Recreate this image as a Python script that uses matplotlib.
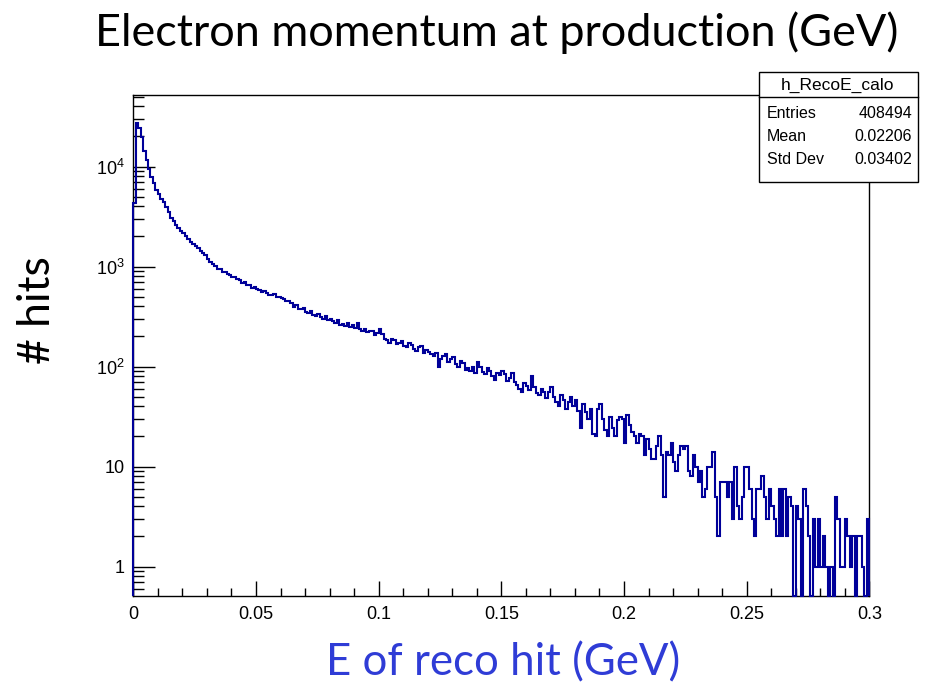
import numpy as np
import matplotlib
matplotlib.use("Agg")
import matplotlib.pyplot as plt
from matplotlib.patches import Rectangle
from matplotlib.lines import Line2D
from matplotlib.ticker import MultipleLocator, LogLocator, NullFormatter

# h_RecoE_calo: 300 bins of 1 MeV between 0 and 0.3 GeV
x_low = 0.0
x_high = 0.3
counts = [
    4300, 27500, 24000, 19500, 14200, 11600, 9400, 7900, 6800, 5800,
    5250, 4750, 4400, 3950, 3480, 3050, 2830, 2590, 2420, 2260,
    2140, 2010, 1890, 1770, 1690, 1590, 1530, 1440, 1380, 1290,
    1190, 1120, 1050, 1010, 950, 935, 890, 880, 845, 830,
    790, 785, 745, 735, 690, 700, 655, 650, 615, 625,
    600, 580, 552, 570, 548, 522, 516, 530, 490, 498,
    482, 470, 448, 452, 430, 395, 408, 380, 372, 388,
    352, 344, 360, 330, 318, 334, 310, 300, 318, 290,
    296, 284, 272, 290, 262, 266, 252, 270, 246, 258,
    244, 272, 236, 226, 238, 220, 228, 224, 206, 216,
    238, 212, 190, 186, 172, 188, 184, 166, 170, 180,
    162, 158, 170, 164, 150, 142, 156, 160, 138, 146,
    140, 132, 128, 136, 100, 118, 126, 132, 110, 118,
    124, 106, 100, 114, 108, 92, 96, 90, 98, 86,
    112, 100, 88, 84, 96, 90, 80, 74, 86, 82,
    90, 84, 72, 76, 86, 70, 66, 60, 56, 68,
    64, 58, 80, 62, 54, 52, 60, 56, 48, 56,
    62, 50, 44, 40, 52, 46, 38, 44, 50, 40,
    46, 36, 24, 42, 35, 30, 38, 21, 20, 38,
    42, 30, 23, 20, 31, 24, 20, 29, 31, 30,
    17, 33, 26, 22, 20, 17, 21, 20, 13, 19,
    15, 12, 12, 16, 20, 13, 5, 14, 13, 17,
    11, 9, 13, 16, 15, 16, 9, 8, 13, 10,
    7, 9, 5, 6, 10, 10, 14, 5, 2, 7,
    7, 7, 5, 7, 3, 10, 4, 3, 5, 10,
    10, 6, 3, 2, 6, 6, 8, 5, 3, 6,
    4, 3, 2, 6, 2, 6, 2, 5, 4, 0,
    4, 3, 0, 6, 4, 2, 0, 3, 1, 3,
    1, 2, 1, 0, 1, 0, 5, 3, 1, 1,
    3, 2, 1, 2, 0, 2, 2, 1, 0, 3,
]

x_ticks = [0, 0.05, 0.1, 0.15, 0.2, 0.25, 0.3]
x_tick_labels = ["0", "0.05", "0.1", "0.15", "0.2", "0.25", "0.3"]
y_ticks = [1, 10, 100, 1000, 10000]
y_tick_labels = ["1", "10", "$10^{2}$", "$10^{3}$", "$10^{4}$"]

stat_name = "h_RecoE_calo"
stat_keys = ["Entries", "Mean", "Std Dev"]
stat_values = ["408494", "0.02206", "0.03402"]

W, H = 944, 687


def fx(px):
    return px / W


def fy(py):
    return 1 - py / H


def main():
    plt.rcParams["mathtext.fontset"] = "custom"
    plt.rcParams["mathtext.rm"] = "Liberation Sans"
    plt.rcParams["mathtext.it"] = "Liberation Sans"
    root_font = "Liberation Sans"
    slide_font = "Lato"

    fig = plt.figure(figsize=(W / 100, H / 100), dpi=100)
    ax = fig.add_axes([fx(133.3), fy(596), fx(869.3) - fx(133.3), fy(95) - fy(596)])

    ymin, ymax = 0.507, 51880
    edges = np.linspace(x_low, x_high, len(counts) + 1)
    h = np.asarray(counts, dtype=float)
    shown = np.where(h > 0, h, ymin)
    ax.stairs(shown, edges, baseline=ymin, color="#000099",
              linewidth=1.5, clip_on=False, zorder=3)

    ax.set_yscale("log")
    ax.set_xlim(x_low, x_high)
    ax.set_ylim(ymin, ymax)

    ax.set_xticks(x_ticks)
    ax.set_xticklabels(x_tick_labels, fontsize=13, family=root_font)
    ax.xaxis.set_minor_locator(MultipleLocator(0.01))
    ax.set_yticks(y_ticks)
    ax.set_yticklabels(y_tick_labels, fontsize=13, family=root_font)
    ax.yaxis.set_minor_locator(LogLocator(base=10, subs=np.arange(2, 10)))
    ax.yaxis.set_minor_formatter(NullFormatter())

    ax.tick_params(axis="x", which="major", direction="in", length=11, width=1, pad=7)
    ax.tick_params(axis="x", which="minor", direction="in", length=5.5, width=1)
    ax.tick_params(axis="y", which="major", direction="in", length=16, width=1, pad=6)
    ax.tick_params(axis="y", which="minor", direction="in", length=8, width=1)
    for s in ax.spines.values():
        s.set_linewidth(1)

    # stats box in the upper right corner
    fig.add_artist(Rectangle((fx(759), fy(182)), fx(918) - fx(759), fy(72) - fy(182),
                             transform=fig.transFigure, facecolor="white",
                             edgecolor="black", linewidth=1, zorder=5))
    fig.add_artist(Line2D([fx(759), fx(918)], [fy(97), fy(97)],
                          transform=fig.transFigure, color="black",
                          linewidth=1, zorder=5))
    fig.text(fx(838), fy(85), stat_name, ha="center", va="center",
             fontsize=12.5, family=root_font, zorder=6)
    for i, (k, v) in enumerate(zip(stat_keys, stat_values)):
        yy = fy(113 + 23.5 * i)
        fig.text(fx(767), yy, k, ha="left", va="center",
                 fontsize=11.5, family=root_font, zorder=6)
        fig.text(fx(912), yy, v, ha="right", va="center",
                 fontsize=11.5, family=root_font, zorder=6)

    fig.text(fx(497), fy(33), "Electron momentum at production (GeV)",
             ha="center", va="center", fontsize=32.4, family=slide_font)
    fig.text(fx(38), fy(310), "# hits", ha="center", va="center",
             rotation=90, fontsize=32, family=slide_font)
    fig.text(fx(503), fy(663), "E of reco hit (GeV)", ha="center", va="center",
             fontsize=31.5, family=slide_font, color="#2f3cd6")

    fig.savefig("out.png", dpi=100)


if __name__ == "__main__":
    main()
